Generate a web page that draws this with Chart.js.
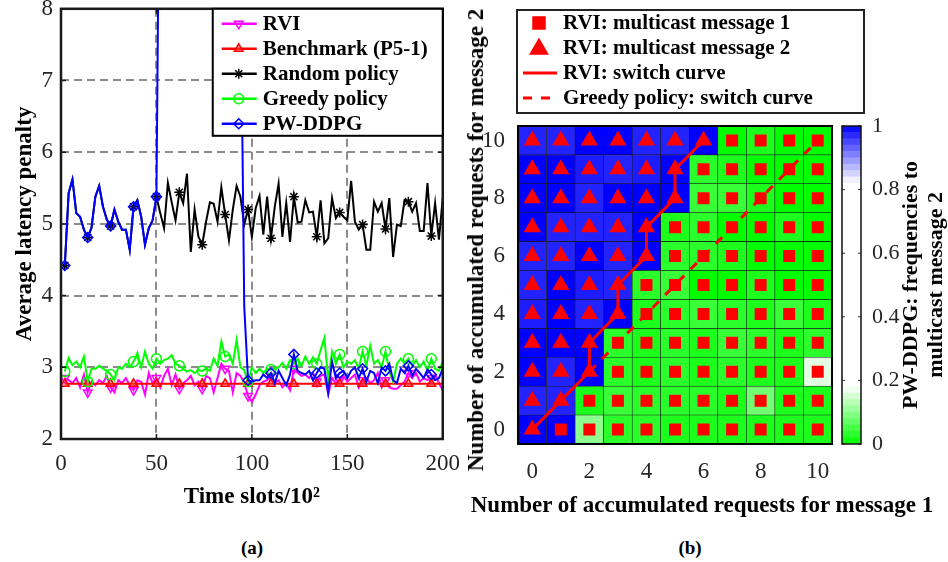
<!DOCTYPE html>
<html>
<head>
<meta charset="utf-8">
<script src="https://cdn.jsdelivr.net/npm/chart.js@4.4.1/dist/chart.umd.min.js"></script>
<style>
  body { margin: 0; background: #fff; }
  #fig { position: relative; width: 948px; height: 562px; overflow: hidden; font-family: "Liberation Serif", "Times New Roman", serif; }
  #fig canvas { position: absolute; }
  .lbl { position: absolute; font-weight: bold; color: #000; white-space: nowrap; transform: translate(-50%, -50%); }
  .rot { transform: translate(-50%, -50%) rotate(-90deg); text-align: center; }
</style>
</head>
<body>
<div id="fig">
  <canvas id="latencyChart" width="471" height="533" style="left:0;top:-13px"></canvas>
  <canvas id="heatChart" width="410" height="480" style="left:460px;top:0"></canvas>
  <canvas id="barChart" width="118" height="480" style="left:830px;top:0"></canvas>
  <div class="lbl" style="left:252px;top:548px;font-size:19px">(a)</div>
  <div class="lbl" style="left:690px;top:548px;font-size:19px">(b)</div>
  <div class="lbl" style="left:702px;top:505px;font-size:23px">Number of accumulated requests for message 1</div>
  <div class="lbl rot" style="left:476px;top:240px;font-size:23px">Number of accumulated requests for message 2</div>
  <div class="lbl rot" style="left:922px;top:285px;font-size:22px;line-height:25px">PW-DDPG: frequencies to<br>multicast message 2</div>
</div>
<script>
// ---- (a) average latency penalty vs time slots ----
const timeSlots = [2,4,6,8,10,12,14,16,18,20,
  22,24,26,28,30,32,34,36,38,40,
  42,44,46,48,50,52,54,56,58,60,
  62,64,66,68,70,72,74,76,78,80,
  82,84,86,88,90,92,94,96,98,100,
  102,104,106,108,110,112,114,116,118,120,
  122,124,126,128,130,132,134,136,138,140,
  142,144,146,148,150,152,154,156,158,160,
  162,164,166,168,170,172,174,176,178,180,
  182,184,186,188,190,192,194,196,198,200];

const rviPenalty = [2.85,2.82,2.78,2.85,2.72,2.90,2.65,2.80,2.75,2.82,
  2.78,2.88,2.72,2.65,2.82,2.78,2.85,2.75,2.68,2.82,
  2.80,2.62,2.92,2.78,2.85,2.72,2.88,2.98,2.75,2.90,
  2.70,2.78,2.82,2.88,2.75,2.80,2.70,2.88,2.85,2.65,
  2.85,3.05,2.98,2.95,2.65,2.92,2.88,2.78,2.60,2.52,
  2.62,2.75,2.80,2.82,2.88,2.78,2.82,2.72,2.78,2.68,
  2.98,2.92,2.88,2.90,2.85,2.92,2.80,2.88,2.90,2.62,
  2.85,2.78,2.82,2.88,2.80,2.85,2.90,2.72,2.82,2.85,
  2.78,2.82,2.92,2.72,2.82,2.72,2.70,2.70,2.75,2.80,
  2.92,2.85,2.92,2.80,2.85,2.82,2.85,2.90,2.78,2.68];

const benchmarkPenalty = [2.77,2.77,2.77,2.77,2.77,2.77,2.77,2.77,2.77,2.77,
  2.77,2.77,2.77,2.77,2.77,2.77,2.77,2.77,2.77,2.77,
  2.77,2.77,2.77,2.77,2.77,2.77,2.77,2.77,2.77,2.77,
  2.77,2.77,2.77,2.77,2.77,2.77,2.77,2.77,2.77,2.77,
  2.77,2.77,2.77,2.77,2.77,2.77,2.77,2.77,2.77,2.77,
  2.77,2.77,2.77,2.77,2.77,2.77,2.77,2.77,2.77,2.77,
  2.77,2.77,2.77,2.77,2.77,2.77,2.77,2.77,2.77,2.77,
  2.77,2.77,2.77,2.77,2.77,2.77,2.77,2.77,2.77,2.77,
  2.77,2.77,2.77,2.77,2.77,2.77,2.77,2.77,2.77,2.77,
  2.77,2.77,2.77,2.77,2.77,2.77,2.77,2.77,2.77,2.77];

const randomPenalty = [4.42,5.43,5.62,5.15,5.10,4.92,4.81,4.95,5.38,5.53,
  5.24,5.06,4.97,5.20,5.03,4.92,4.92,4.64,5.24,5.33,
  5.10,4.71,4.94,5.05,5.38,5.15,4.94,5.57,5.30,5.05,
  5.44,5.29,5.70,4.61,5.20,4.82,4.71,5.03,5.30,5.28,
  5.03,5.51,5.13,4.77,5.20,5.53,5.38,4.99,5.20,4.82,
  5.22,5.39,4.85,5.38,4.80,5.24,5.56,4.82,5.29,4.75,
  5.38,5.02,5.03,5.33,5.16,5.17,4.82,5.33,4.73,4.80,
  5.36,5.08,5.16,5.10,5.05,5.60,5.03,4.92,4.99,4.64,
  4.64,5.31,5.17,5.29,4.93,5.36,4.54,4.99,4.97,5.33,
  5.31,5.17,5.29,4.90,4.90,5.57,4.83,5.29,4.78,5.36];

const greedyPenalty = [2.94,3.13,3.03,3.08,3.00,3.15,2.80,2.98,2.98,3.02,
  2.98,2.95,2.90,2.82,3.00,2.98,3.05,3.00,3.08,3.20,
  3.00,3.22,3.05,2.98,3.12,3.05,3.10,3.12,3.17,3.05,
  3.02,2.98,2.94,2.96,2.92,2.96,2.95,2.98,2.95,3.12,
  3.02,3.36,3.15,3.18,3.05,3.38,3.00,2.96,2.80,3.00,
  2.92,2.98,2.92,2.98,2.97,2.98,3.00,3.06,2.98,3.10,
  3.05,3.12,3.02,3.15,3.05,3.14,3.05,3.24,3.41,2.82,
  3.22,3.05,3.18,3.00,3.08,3.05,3.10,2.98,3.22,3.02,
  3.30,3.05,3.10,3.00,3.22,2.95,2.80,3.05,3.12,3.05,
  3.12,3.02,3.10,3.00,3.08,2.95,3.12,2.98,2.95,3.08];

// values between 52 and 94 lie far above the plotted range
const pwDdpgPenalty = [4.42,5.43,5.62,5.15,5.10,4.92,4.81,4.95,5.38,5.53,
  5.24,5.06,4.97,5.20,5.03,4.92,4.92,4.64,5.24,5.33,
  5.10,4.71,4.94,5.05,5.38,11.6,11.8,11.5,11.9,11.7,
  11.8,11.6,11.9,11.7,11.8,11.6,11.9,11.7,11.8,11.6,
  11.8,11.7,11.9,11.6,11.8,11.7,8.7,3.85,2.82,2.80,
  2.82,2.82,2.90,2.85,2.92,2.78,2.95,2.85,2.75,2.90,
  3.18,2.95,2.92,2.90,2.95,2.82,2.92,3.00,2.98,2.65,
  3.08,2.85,2.92,2.95,2.85,2.95,3.00,2.85,2.98,2.80,
  2.95,2.92,2.78,3.00,2.95,3.05,2.82,2.78,2.98,2.92,
  3.02,2.88,2.98,2.92,2.85,2.97,2.90,2.82,2.85,2.98];

const seriesNames = ['RVI', 'Benchmark (P5-1)', 'Random policy', 'Greedy policy', 'PW-DDPG'];

// ---- (b) switch curves and PW-DDPG frequencies ----
const msg1Labels = ['0','1','2','3','4','5','6','7','8','9','10'];
const msg2Rows = [0,1,2,3,4,5,6,7,8,9,10];
const msg2Ticks = [0,2,4,6,8,10];
// pwFreq[row][col]: frequency of multicasting message 2 (row = requests for msg 2, col = requests for msg 1)
const pwFreq = [
  [1.00,1.00,0.10,0.03,0.03,0.02,0.02,0.02,0.02,0.02,0.02],
  [0.975,0.975,0.02,0.04,0.03,0.03,0.03,0.02,0.08,0.02,0.02],
  [1.00,0.975,1.00,0.03,0.02,0.03,0.02,0.03,0.02,0.02,0.16],
  [1.00,1.00,1.00,0.03,0.02,0.03,0.02,0.04,0.03,0.02,0.03],
  [0.98,1.00,0.975,1.00,0.02,0.03,0.04,0.03,0.02,0.04,0.02],
  [0.975,1.00,0.98,0.975,0.03,0.04,0.00,0.00,0.02,0.00,0.00],
  [0.975,0.975,1.00,0.975,1.00,0.03,0.03,0.02,0.00,0.00,0.00],
  [1.00,0.975,0.975,0.975,1.00,0.02,0.03,0.00,0.00,0.02,0.00],
  [1.00,1.00,0.975,1.00,1.00,1.00,0.04,0.04,0.02,0.00,0.00],
  [1.00,1.00,0.98,0.975,0.98,1.00,0.03,0.02,0.00,0.00,0.00],
  [0.975,0.975,1.00,1.00,0.975,0.975,1.00,0.00,0.02,0.00,0.00]
];
// number of leading columns in each row where RVI multicasts message 2
const rviMsg2Count = [1,2,3,3,4,4,5,5,6,6,7];
const rviCurveX = [0,1,2,2,3,3,4,4,5,5,6];
const rviCurveY = [0,1,2,3,4,5,6,7,8,9,10];
const greedyCurveX = [2,3,4,5,6,7,8,9,10];
const greedyCurveY = [2,3,4,5,6,7,8,9,10];
const colorbarTicks = [0,0.2,0.4,0.6,0.8,1];

const SERIF = '"Liberation Serif", "Times New Roman", serif';
const tickFont = { family: SERIF, size: 23 };
const tickColor = '#262626';

function drawMarker(ctx, style, x, y, r, stroke, fill) {
  ctx.save();
  ctx.strokeStyle = stroke;
  ctx.fillStyle = fill;
  ctx.lineWidth = 1.5;
  ctx.beginPath();
  if (style === 'triangle') {
    ctx.moveTo(x, y - r); ctx.lineTo(x + r * 0.866, y + r / 2); ctx.lineTo(x - r * 0.866, y + r / 2); ctx.closePath();
  } else if (style === 'triangleDown') {
    ctx.moveTo(x, y + r); ctx.lineTo(x + r * 0.866, y - r / 2); ctx.lineTo(x - r * 0.866, y - r / 2); ctx.closePath();
  } else if (style === 'circle') {
    ctx.arc(x, y, r, 0, Math.PI * 2);
  } else if (style === 'diamond') {
    ctx.moveTo(x, y - r); ctx.lineTo(x + r, y); ctx.lineTo(x, y + r); ctx.lineTo(x - r, y); ctx.closePath();
  } else if (style === 'rect') {
    ctx.rect(x - r, y - r, 2 * r, 2 * r);
  } else if (style === 'star') {
    for (let k = 0; k < 4; k++) {
      const a = k * Math.PI / 4;
      ctx.moveTo(x - r * Math.cos(a), y - r * Math.sin(a));
      ctx.lineTo(x + r * Math.cos(a), y + r * Math.sin(a));
    }
  }
  if (style !== 'star') ctx.fill();
  ctx.stroke();
  ctx.restore();
}

// ---------------- chart (a) ----------------
const seriesStyle = [
  { color: '#ff00ff', marker: 'triangleDown', fill: 'rgba(0,0,0,0)' },
  { color: '#ff0000', marker: 'triangle', fill: 'rgba(255,70,70,0.45)' },
  { color: '#000000', marker: 'star', fill: 'rgba(0,0,0,0)' },
  { color: '#00ff00', marker: 'circle', fill: 'rgba(0,0,0,0)' },
  { color: '#0000ff', marker: 'diamond', fill: 'rgba(0,0,0,0)' }
];
const chartStyle = { triangleDown: 'triangle', triangle: 'triangle', star: 'star', circle: 'circle', diamond: 'rectRot' };
const seriesValues = [rviPenalty, benchmarkPenalty, randomPenalty, greedyPenalty, pwDdpgPenalty];

const latencyFrame = {
  id: 'latencyFrame',
  afterDatasetsDraw(chart) {
    const { ctx, chartArea: a, scales } = chart;
    ctx.save();
    ctx.strokeStyle = '#1a1a1a';
    ctx.lineWidth = 1.5;
    ctx.beginPath();
    scales.x.ticks.forEach(t => {
      const px = scales.x.getPixelForValue(t.value);
      ctx.moveTo(px, a.bottom); ctx.lineTo(px, a.bottom - 5);
      ctx.moveTo(px, a.top); ctx.lineTo(px, a.top + 5);
    });
    scales.y.ticks.forEach(t => {
      const py = scales.y.getPixelForValue(t.value);
      ctx.moveTo(a.left, py); ctx.lineTo(a.left + 5, py);
      ctx.moveTo(a.right, py); ctx.lineTo(a.right - 5, py);
    });
    ctx.stroke();
    ctx.lineWidth = 2.5;
    ctx.strokeRect(a.left, a.top, a.right - a.left, a.bottom - a.top);
    ctx.restore();
  },
  afterDraw(chart) {
    const { ctx, chartArea: a } = chart;
    const box = { x: a.right - 230, y: a.top, w: 230, h: 127 };
    ctx.save();
    ctx.fillStyle = '#fff';
    ctx.fillRect(box.x, box.y, box.w, box.h);
    ctx.strokeStyle = '#000';
    ctx.lineWidth = 2;
    ctx.strokeRect(box.x, box.y, box.w, box.h);
    ctx.font = 'bold 21px ' + SERIF;
    ctx.textBaseline = 'middle';
    seriesNames.forEach((name, i) => {
      const y = box.y + 15 + i * 25;
      const st = seriesStyle[i];
      ctx.strokeStyle = st.color;
      ctx.lineWidth = 2.5;
      ctx.beginPath(); ctx.moveTo(box.x + 9, y); ctx.lineTo(box.x + 44, y); ctx.stroke();
      drawMarker(ctx, st.marker, box.x + 26, y, 5, st.color, st.fill);
      ctx.fillStyle = '#000';
      ctx.fillText(name, box.x + 50, y + 1);
    });
    ctx.restore();
  }
};

new Chart(document.getElementById('latencyChart'), {
  type: 'line',
  data: {
    datasets: seriesValues.map((vals, i) => ({
      label: seriesNames[i],
      data: vals.map((v, k) => ({ x: timeSlots[k], y: v })),
      borderColor: seriesStyle[i].color,
      borderWidth: 2,
      tension: 0,
      fill: false,
      pointStyle: chartStyle[seriesStyle[i].marker],
      pointRotation: seriesStyle[i].marker === 'triangleDown' ? 180 : 0,
      pointRadius: ctx => ctx.dataIndex % 6 === 0 ? 5 : 0,
      pointBorderColor: seriesStyle[i].color,
      pointBackgroundColor: seriesStyle[i].fill,
      pointBorderWidth: 1.5,
      order: 5 - i
    }))
  },
  options: {
    responsive: false,
    animation: false,
    events: [],
    layout: { padding: 0 },
    plugins: { legend: { display: false }, tooltip: { enabled: false } },
    scales: {
      x: {
        type: 'linear', min: 0, max: 200,
        ticks: { stepSize: 50, font: tickFont, color: tickColor, padding: 11, maxRotation: 0 },
        grid: { color: '#8c8c8c', lineWidth: 2, drawTicks: false },
        border: { display: false, dash: [8, 5] },
        title: { display: true, text: 'Time slots/10\u00B2', color: '#000', font: { family: SERIF, size: 23, weight: 'bold' }, padding: { top: 0, bottom: 9 } },
        afterFit: s => { s.height = 81; }
      },
      y: {
        min: 2, max: 8,
        ticks: { stepSize: 1, font: tickFont, color: tickColor, padding: 8 },
        grid: { color: '#8c8c8c', lineWidth: 2, drawTicks: false },
        border: { display: false, dash: [8, 5] },
        title: { display: true, text: 'Average latency penalty', color: '#000', font: { family: SERIF, size: 23, weight: 'bold' }, padding: { top: 11, bottom: 0 } },
        afterFit: s => { s.width = 61; }
      }
    }
  },
  plugins: [latencyFrame]
});

// ---------------- chart (b) ----------------
const WHITE = [255, 255, 255], BLUE = [0, 0, 255], GREEN = [0, 255, 0];
function mix(c1, c2, t) {
  const c = c1.map((v, k) => Math.round(v + (c2[k] - v) * t));
  return 'rgb(' + c.join(',') + ')';
}
function freqColor(v) {
  if (v >= 0.82) return mix(WHITE, BLUE, Math.min(1, (v - 0.82) / 0.18));
  if (v <= 0.18) return mix(WHITE, GREEN, Math.min(1, (0.18 - v) / 0.18));
  return 'rgb(255,255,255)';
}

const cellSets = msg2Rows.map((r, ri) => ({
  type: 'bar',
  data: msg1Labels.map(() => [r - 0.5, r + 0.5]),
  backgroundColor: pwFreq[ri].map(freqColor),
  borderColor: '#1a1a1a',
  borderWidth: 0.6,
  borderSkipped: false,
  grouped: false,
  barPercentage: 1,
  categoryPercentage: 1,
  order: 10
}));

const msg1Points = [], msg2Points = [];
msg2Rows.forEach((r, ri) => {
  msg1Labels.forEach((lab, ci) => {
    (ci < rviMsg2Count[ri] ? msg2Points : msg1Points).push({ x: lab, y: r });
  });
});

const heatFrame = {
  id: 'heatFrame',
  afterDatasetsDraw(chart) {
    const { ctx, chartArea: a } = chart;
    ctx.save();
    ctx.strokeStyle = '#000';
    ctx.lineWidth = 2;
    ctx.strokeRect(a.left, a.top, a.right - a.left, a.bottom - a.top);
    ctx.restore();
  },
  afterDraw(chart) {
    const { ctx } = chart;
    const box = { x: 57, y: 10, w: 347, h: 103 };
    ctx.save();
    ctx.fillStyle = '#fff';
    ctx.fillRect(box.x, box.y, box.w, box.h);
    ctx.strokeStyle = '#222';
    ctx.lineWidth = 2;
    ctx.strokeRect(box.x, box.y, box.w, box.h);
    const names = ['RVI: multicast message 1', 'RVI: multicast message 2', 'RVI: switch curve', 'Greedy policy: switch curve'];
    ctx.font = 'bold 21px ' + SERIF;
    ctx.textBaseline = 'middle';
    names.forEach((name, i) => {
      const y = 23 + i * 25;
      if (i === 0) drawMarker(ctx, 'rect', 79, y, 6, '#ff0000', '#ff0000');
      if (i === 1) drawMarker(ctx, 'triangle', 79, y + 1, 10, '#ff0000', '#ff0000');
      if (i >= 2) {
        ctx.strokeStyle = '#ff0000';
        ctx.lineWidth = 3;
        ctx.setLineDash(i === 3 ? [9, 9] : []);
        ctx.beginPath(); ctx.moveTo(63, y); ctx.lineTo(97, y); ctx.stroke();
        ctx.setLineDash([]);
      }
      ctx.fillStyle = '#000';
      ctx.fillText(name, 103, y + 1);
    });
    ctx.restore();
  }
};

new Chart(document.getElementById('heatChart'), {
  type: 'bar',
  data: {
    labels: msg1Labels,
    datasets: [
      ...cellSets,
      {
        type: 'line', label: 'RVI: multicast message 1', data: msg1Points, showLine: false,
        pointStyle: 'rect', pointRadius: 8.5, pointBackgroundColor: '#ff0000', pointBorderWidth: 0, order: 2
      },
      {
        type: 'line', label: 'RVI: multicast message 2', data: msg2Points, showLine: false,
        pointStyle: 'triangle', pointRadius: 10, pointBackgroundColor: '#ff0000', pointBorderWidth: 0, order: 2
      },
      {
        type: 'line', label: 'RVI: switch curve',
        data: rviCurveX.map((x, i) => ({ x: msg1Labels[x], y: rviCurveY[i] })),
        borderColor: '#ff0000', borderWidth: 3, pointRadius: 0, tension: 0, order: 1
      },
      {
        type: 'line', label: 'Greedy policy: switch curve',
        data: greedyCurveX.map((x, i) => ({ x: msg1Labels[x], y: greedyCurveY[i] })),
        borderColor: '#ff0000', borderWidth: 3, borderDash: [9, 9], pointRadius: 0, tension: 0, order: 1
      }
    ]
  },
  options: {
    responsive: false,
    animation: false,
    events: [],
    layout: { padding: { top: 126, right: 38, left: 0, bottom: 0 } },
    plugins: { legend: { display: false }, tooltip: { enabled: false } },
    scales: {
      x: {
        ticks: { font: tickFont, color: tickColor, padding: 6, autoSkip: false, maxRotation: 0,
          callback: (v, i) => i % 2 === 0 ? msg1Labels[i] : '' },
        grid: { display: false },
        border: { display: false },
        afterFit: s => { s.height = 36; }
      },
      y: {
        type: 'linear', min: -0.5, max: 10.5,
        afterBuildTicks: s => { s.ticks = msg2Ticks.map(v => ({ value: v })); },
        ticks: { font: tickFont, color: tickColor, padding: 5 },
        grid: { display: false },
        border: { display: false },
        afterFit: s => { s.width = 58; }
      }
    }
  },
  plugins: [heatFrame]
});

// ---------------- colour bar ----------------
const barLevels = [];
for (let k = 0; k < 50; k++) barLevels.push(k / 50);

const barFrame = {
  id: 'barFrame',
  afterDatasetsDraw(chart) {
    const { ctx, chartArea: a, scales } = chart;
    ctx.save();
    ctx.strokeStyle = '#333';
    ctx.lineWidth = 1;
    ctx.beginPath();
    colorbarTicks.forEach(v => {
      const py = scales.y.getPixelForValue(v);
      ctx.moveTo(a.left, py); ctx.lineTo(a.left + 3, py);
      ctx.moveTo(a.right, py); ctx.lineTo(a.right - 3, py);
    });
    ctx.stroke();
    ctx.strokeStyle = '#111';
    ctx.lineWidth = 1.5;
    ctx.strokeRect(a.left, a.top, a.right - a.left, a.bottom - a.top);
    ctx.restore();
  }
};

new Chart(document.getElementById('barChart'), {
  type: 'bar',
  data: {
    labels: [''],
    datasets: barLevels.map(lo => ({
      data: [[lo, lo + 0.02]],
      backgroundColor: freqColor(lo + 0.01),
      borderWidth: 0,
      grouped: false,
      barPercentage: 1,
      categoryPercentage: 1
    }))
  },
  options: {
    responsive: false,
    animation: false,
    events: [],
    layout: { padding: { top: 126, right: 47, left: 12, bottom: 36 } },
    plugins: { legend: { display: false }, tooltip: { enabled: false } },
    scales: {
      x: { display: false },
      y: {
        position: 'right', min: 0, max: 1,
        afterBuildTicks: s => { s.ticks = colorbarTicks.map(v => ({ value: v })); },
        ticks: { font: { family: SERIF, size: 22 }, color: tickColor, padding: 3,
          callback: v => (v === 0 || v === 1) ? String(v) : v.toFixed(1) },
        grid: { display: false },
        border: { display: false },
        afterFit: s => { s.width = 40; }
      }
    }
  },
  plugins: [barFrame]
});
</script>
</body>
</html>
